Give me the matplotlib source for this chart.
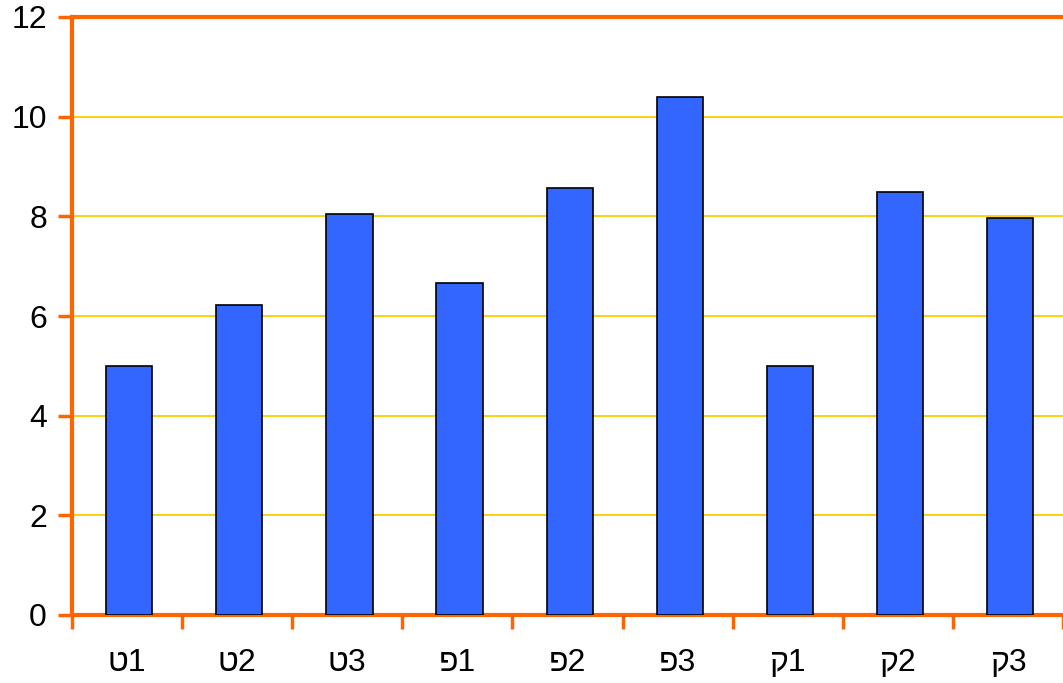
import matplotlib.pyplot as plt
import numpy as np

categories = ["ט1", "ט2", "ט3", "פ1", "פ2", "פ3", "ק1", "ק2", "ק3"]
values = [5.0, 6.22, 8.05, 6.66, 8.57, 10.4, 5.0, 8.49, 7.97]
y_ticks = [0, 2, 4, 6, 8, 10, 12]

plt.rcParams['font.family'] = ['Liberation Sans', 'DejaVu Sans']

orange = '#FF6600'
fig = plt.figure(figsize=(10.63, 6.83), dpi=100)
ax = fig.add_axes([72 / 1063, 1 - 615 / 683, 991 / 1063, 598 / 683])

x = np.arange(len(categories))
ax.bar(x + 0.02, values, width=0.42, color='#3366FF', edgecolor='black', linewidth=1.2, zorder=3)

ax.set_xlim(-0.5, len(categories) - 0.5)
ax.set_ylim(0, 12)
ax.set_yticks(y_ticks)
ax.set_yticklabels([str(t) for t in y_ticks], fontsize=23)
for t in y_ticks[1:-1]:
    ax.axhline(t, color='#FFCC00', linewidth=1.3, zorder=1)

# category labels centred, ticks on the boundaries
ax.set_xticks(x)
ax.set_xticklabels(categories, fontsize=23)
ax.tick_params(axis='x', length=0, pad=24)
ax.set_xticks(np.arange(len(categories) + 1) - 0.5, minor=True)
ax.tick_params(axis='x', which='minor', length=10, width=2.5, color=orange, direction='out')
ax.tick_params(axis='y', length=10, width=2.5, color=orange, direction='out', pad=8)

for side in ['left', 'bottom', 'top']:
    ax.spines[side].set_color(orange)
    ax.spines[side].set_linewidth(3)
ax.spines['right'].set_visible(False)

fig.savefig('out.png', dpi=100)
